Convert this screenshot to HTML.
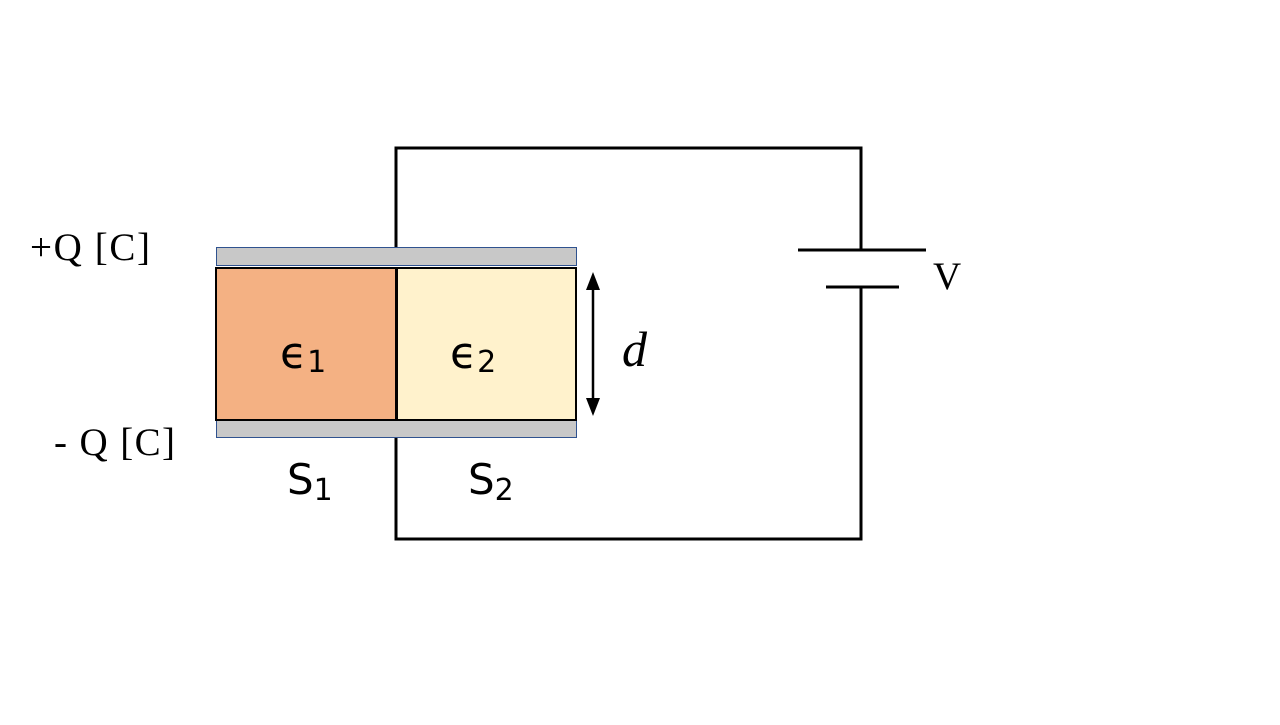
<!DOCTYPE html>
<html><head><style>body{margin:0;background:#fff}</style></head><body>
<svg width="1280" height="720" xmlns="http://www.w3.org/2000/svg">
<rect width="1280" height="720" fill="#fff"/>
<g stroke="#000" stroke-width="3" fill="none">
<polyline points="396,247 396,148 861,148 861,250"/>
<polyline points="396,437 396,539 861,539 861,287"/>
<line x1="798" y1="250" x2="926" y2="250"/>
<line x1="826" y1="287" x2="899" y2="287"/>
</g>
<rect x="216.5" y="247.5" width="360" height="18" fill="#c8c8c8" stroke="#2f528f" stroke-width="1"/>
<rect x="216.5" y="420.5" width="360" height="17" fill="#c8c8c8" stroke="#2f528f" stroke-width="1"/>
<rect x="216" y="268" width="180" height="152" fill="#f4b183" stroke="#000" stroke-width="2"/>
<rect x="397" y="268" width="179" height="152" fill="#fff2cc" stroke="#000" stroke-width="2"/>
<line x1="593" y1="285" x2="593" y2="402" stroke="#000" stroke-width="2.5"/>
<polygon points="593,272 586,290 600,290" fill="#000"/>
<polygon points="593,416 586,398 600,398" fill="#000"/>
<g font-family="Liberation Serif, serif" font-size="39" fill="#000">
<text x="30" y="260" textLength="120">+Q [C]</text>
<text x="54" y="455" textLength="121">- Q [C]</text>
<text x="933" y="289">V</text>
</g>
<g font-family="DejaVu Sans, sans-serif" fill="#000">
<text x="280" y="368" font-size="44">ϵ<tspan font-size="30" dy="4">1</tspan></text>
<text x="450" y="368" font-size="44">ϵ<tspan font-size="30" dy="4">2</tspan></text>
<text x="287" y="494" font-size="42">S<tspan font-size="30" dy="6">1</tspan></text>
<text x="468" y="494" font-size="42">S<tspan font-size="30" dy="6">2</tspan></text>
<text x="622" y="366" font-size="50" font-style="italic" font-family="Liberation Serif, serif">d</text>
</g>
</svg>
</body></html>
